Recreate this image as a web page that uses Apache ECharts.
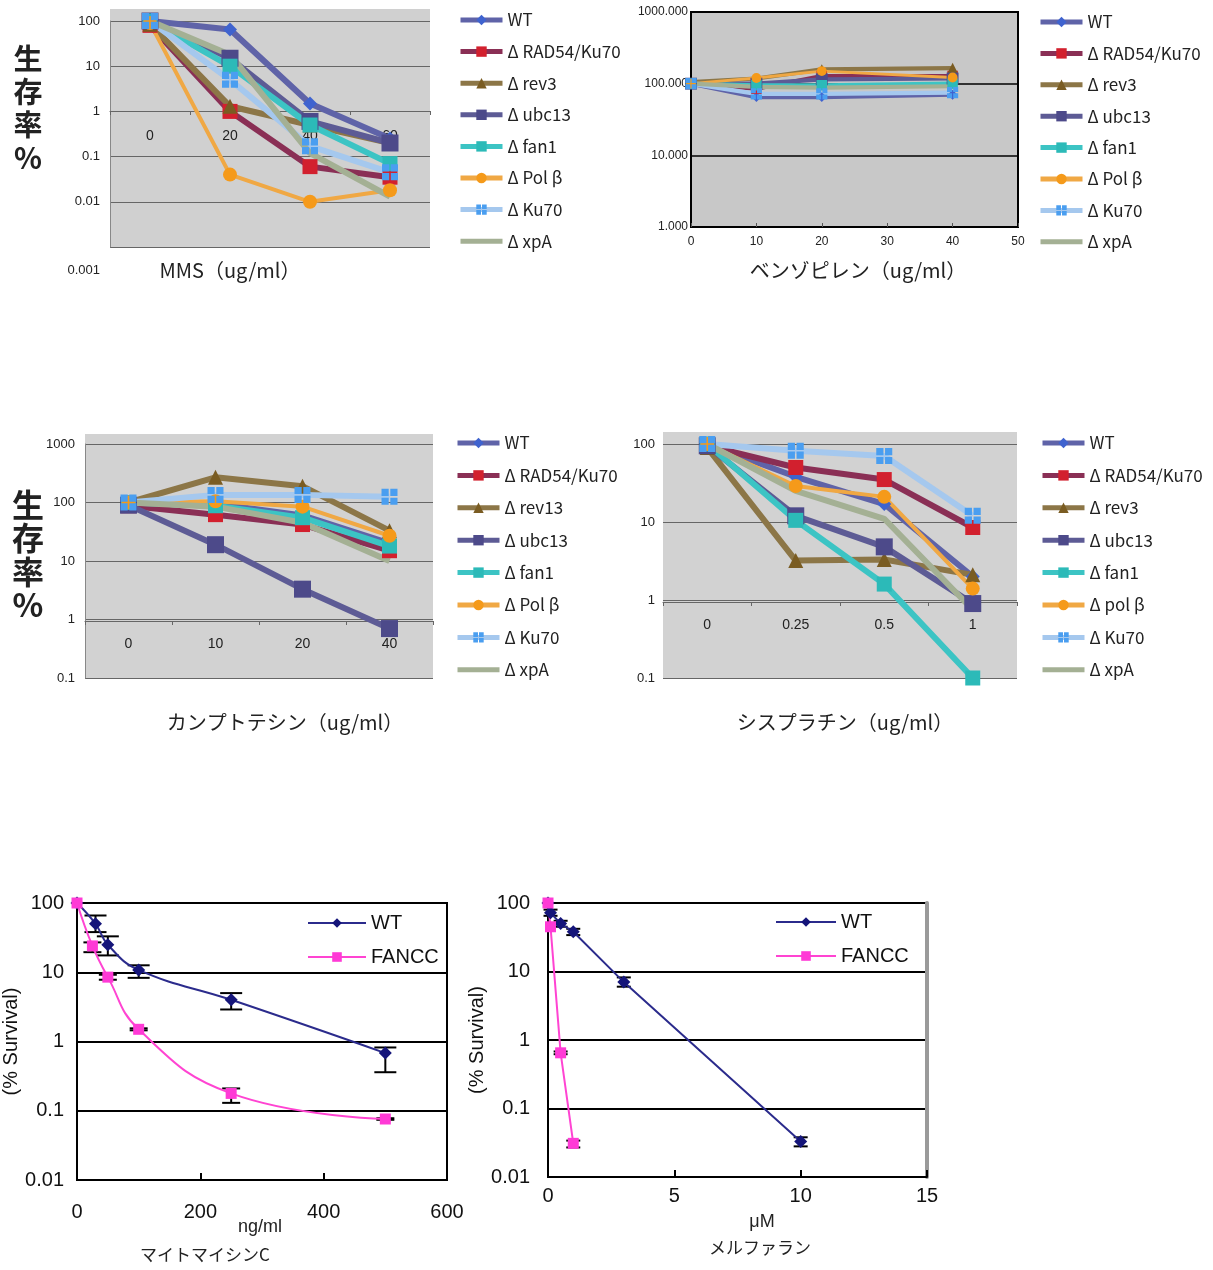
<!DOCTYPE html>
<html>
<head>
<meta charset="utf-8">
<script src="https://cdn.jsdelivr.net/npm/echarts/dist/echarts.min.js"></script>
<style>
  html, body { margin: 0; padding: 0; background: #fff; }
  .panel { position: absolute; left: 0; top: 0; width: 1213px; height: 1270px; }
</style>
</head>
<body>
<div id="c1" class="panel"></div>
<div id="c2" class="panel"></div>
<div id="c3" class="panel"></div>
<div id="c4" class="panel"></div>
<div id="c5" class="panel"></div>
<div id="c6" class="panel"></div>
<script>
// ---- 株の名前 ----
const namesMms = ['WT', 'Δ RAD54/Ku70', 'Δ rev3', 'Δ ubc13', 'Δ fan1', 'Δ Pol β', 'Δ Ku70', 'Δ xpA'];
const namesCpt = ['WT', 'Δ RAD54/Ku70', 'Δ rev13', 'Δ ubc13', 'Δ fan1', 'Δ Pol β', 'Δ Ku70', 'Δ xpA'];
const namesCis = ['WT', 'Δ RAD54/Ku70', 'Δ rev3', 'Δ ubc13', 'Δ fan1', 'Δ pol β', 'Δ Ku70', 'Δ xpA'];

// ---- MMS (ug/ml) ----
const mmsDose = ['0', '20', '40', '60'];
const mmsTicks = ['0.001', '0.01', '0.1', '1', '10', '100'];
const mmsWT = [100, 65, 1.5, 0.25];
const mmsRAD54 = [80, 1.0, 0.06, 0.035];
const mmsRev3 = [85, 1.3, 0.5, 0.2];
const mmsUbc13 = [100, 15, 0.6, 0.2];
const mmsFan1 = [100, 10, 0.5, 0.07];
const mmsPolB = [90, 0.04, 0.01, 0.018];
const mmsKu70 = [100, 5, 0.17, 0.045];
const mmsXpA = [100, 18, 0.12, 0.013];

// ---- ベンゾピレン (ug/ml) ----
const bpDose = [0, 10, 20, 40];
const bpTicks = ['1.000', '10.000', '100.000', '1000.000'];
const bpWT = [100, 65, 65, 70];
const bpRAD54 = [100, 85, 128, 128];
const bpRev3 = [105, 118, 158, 165];
const bpUbc13 = [100, 100, 115, 118];
const bpFan1 = [100, 95, 95, 100];
const bpPolB = [100, 120, 150, 122];
const bpKu70 = [100, 72, 72, 75];
const bpXpA = [100, 90, 88, 92];

// ---- カンプトテシン (ug/ml) ----
const cptDose = ['0', '10', '20', '40'];
const cptTicks = ['0.1', '1', '10', '100', '1000'];
const cptWT = [100, 95, 60, 20];
const cptRAD54 = [88, 62, 42, 15];
const cptRev13 = [100, 270, 190, 33];
const cptUbc13 = [90, 19, 3.3, 0.7];
const cptFan1 = [100, 88, 55, 18];
const cptPolB = [100, 105, 85, 27];
const cptKu70 = [100, 135, 135, 125];
const cptXpA = [100, 85, 45, 10];

// ---- シスプラチン (ug/ml) ----
const cisDose = ['0', '0.25', '0.5', '1'];
const cisTicks = ['0.1', '1', '10', '100'];
const cisWT = [100, 38, 17, 2.0];
const cisRAD54 = [95, 50, 35, 8.5];
const cisRev3 = [90, 3.2, 3.3, 2.1];
const cisUbc13 = [95, 12, 4.8, 0.9];
const cisFan1 = [100, 10.5, 1.6, 0.1];
const cisPolB = [100, 29, 21, 1.4];
const cisKu70 = [100, 82, 70, 12];
const cisXpA = [100, 25, 11, 0.75];

// ---- マイトマイシンC (ng/ml) ----
const survTicks = ['0.01', '0.1', '1', '10', '100'];
const mmcWTDose = [0, 30, 50, 100, 250, 500];
const mmcWT = [100, 50, 25, 10.8, 4.0, 0.68];
const mmcWTLow = [null, 38, 17.5, 8.3, 2.9, 0.36];
const mmcWTHigh = [null, 66, 33, 12.6, 5.0, 0.82];
const mmcFanccDose = [0, 25, 50, 100, 250, 500];
const mmcFancc = [100, 24, 8.5, 1.5, 0.178, 0.076];
const mmcFanccLow = [null, 19.5, 7.8, 1.45, 0.13, 0.074];
const mmcFanccHigh = [null, 27, 9.2, 1.55, 0.21, 0.078];

// ---- メルファラン (μM) ----
const melWTDose = [0, 0.1, 0.5, 1, 3, 10];
const melWT = [100, 72, 50, 38, 7, 0.033];
const melWTLow = [null, 65, 45, 34, 6.0, 0.028];
const melWTHigh = [null, 80, 55, 42, 8.2, 0.038];
const melFanccDose = [0, 0.1, 0.5, 1];
const melFancc = [100, 45, 0.65, 0.031];
const melFanccLow = [null, null, 0.62, 0.027];
const melFanccHigh = [null, null, 0.68, 0.034];

const latin = '"Liberation Sans", "Noto Sans CJK JP", sans-serif';
const jp = '"Noto Sans CJK JP", "Liberation Sans", sans-serif';

// 系列ごとの見た目（Excel風）
const ku70Mark = 'path://M0,0H9V9H0ZM11,0H20V9H11ZM0,11H9V20H0ZM11,11H20V20H11Z';
const strainStyle = [
  { line: '#5f63a8', mark: '#3f63cf', symbol: 'diamond', size: 14, width: 6 },
  { line: '#8a2f55', mark: '#d2202e', symbol: 'rect', size: 15, width: 6 },
  { line: '#8c7647', mark: '#7a5c22', symbol: 'triangle', size: 15, width: 6 },
  { line: '#5d5b95', mark: '#4d4a8a', symbol: 'rect', size: 17, width: 6 },
  { line: '#3cc4c4', mark: '#2cbab8', symbol: 'rect', size: 15, width: 6 },
  { line: '#f0a844', mark: '#f59a1a', symbol: 'circle', size: 14, width: 4 },
  { line: '#a5c8ee', mark: '#4a9ef0', symbol: ku70Mark, size: 16, width: 6 },
  { line: '#a4b094', mark: '#a4b094', symbol: 'none', size: 0, width: 6 }
];

function strainSeries(names, rows, xs, widthScale) {
  return names.map((n, i) => {
    const s = strainStyle[i];
    return {
      name: n,
      type: 'line',
      data: xs ? xs.map((x, j) => [x, rows[i][j]]) : rows[i],
      symbol: s.symbol,
      symbolSize: s.size * (widthScale || 1),
      itemStyle: { color: s.mark },
      lineStyle: { color: s.line, width: s.width * (widthScale || 1) },
      emphasis: { disabled: true },
      animation: false
    };
  });
}

function logLabel(ticks, minExp) {
  return v => ticks[Math.round(Math.log10(v)) - minExp];
}

// 凡例：xpA はマーカー無しの太線
function strainLegend(names, left, top, gap) {
  return {
    data: names.map((n, i) => strainStyle[i].symbol === 'none' ? { name: n, icon: 'path://M0,0H42V5H0Z' } : n),
    orient: 'vertical',
    left: left,
    top: top,
    itemWidth: 42,
    itemHeight: 13,
    itemGap: gap,
    selectedMode: false,
    lineStyle: { width: 5 },
    textStyle: { fontSize: 17, color: '#222', fontFamily: jp }
  };
}

function bgRect(x, y, w, h, color) {
  return { type: 'rect', z: -10, shape: { x: x, y: y, width: w, height: h }, style: { fill: color } };
}

function label(text, x, y, size, font) {
  return {
    type: 'text', x: x, y: y,
    style: { text: text, fontSize: size, fontFamily: font || jp, fill: '#222', textAlign: 'center', textVerticalAlign: 'middle' }
  };
}

function vertLabel(x, y, size, lh) {
  return {
    type: 'text', x: x, y: y,
    style: { text: '生\n存\n率\n%', fontSize: size, lineHeight: lh, fontWeight: 'bold', fontFamily: jp, fill: '#222', textAlign: 'center', textVerticalAlign: 'top' }
  };
}

// カテゴリ軸（y=1 で交差）
function crossCategoryAxis(cats, offset, margin) {
  return {
    type: 'category', data: cats, boundaryGap: true, offset: offset,
    axisLine: { lineStyle: { color: '#666', width: 1 } },
    axisTick: { show: true, length: 4, lineStyle: { color: '#666' } },
    axisLabel: { margin: margin, fontSize: 14, color: '#222', fontFamily: latin }
  };
}

function grayLogAxis(min, max, ticks, minExp, margin, showLine) {
  return {
    type: 'log', logBase: 10, min: min, max: max,
    axisLine: { show: showLine, lineStyle: { color: '#888' } },
    axisTick: { show: false },
    splitLine: { show: true, lineStyle: { color: '#666', width: 1 } },
    axisLabel: { margin: margin, fontSize: 13, color: '#222', fontFamily: latin, formatter: logLabel(ticks, minExp) }
  };
}

// ---- 図1 MMS ----
const mmsAxisY = grayLogAxis(0.001, 100, mmsTicks, -3, 10, true);
mmsAxisY.axisLabel.formatter = v => {
  const t = mmsTicks[Math.round(Math.log10(v)) + 3];
  return t === '0.001' ? '{low|' + t + '}' : t;
};
mmsAxisY.axisLabel.rich = { low: { padding: [46, 0, 0, 0], fontSize: 13, color: '#222', fontFamily: latin } };

echarts.init(document.getElementById('c1')).setOption({
  backgroundColor: 'transparent',
  animation: false,
  grid: { left: 110, top: 21, width: 320, height: 226, show: false },
  xAxis: crossCategoryAxis(mmsDose, -136, 18),
  yAxis: mmsAxisY,
  legend: strainLegend(namesMms, 453, 6.5, 14.6),
  graphic: [
    bgRect(110, 9, 320, 238, '#d0d0d0'),
    vertLabel(28, 42, 29, 33),
    label('MMS（ug/ml）', 230, 270, 20)
  ],
  series: strainSeries(namesMms, [mmsWT, mmsRAD54, mmsRev3, mmsUbc13, mmsFan1, mmsPolB, mmsKu70, mmsXpA])
});

// ---- 図2 ベンゾピレン ----
echarts.init(document.getElementById('c2')).setOption({
  backgroundColor: 'transparent',
  animation: false,
  grid: { left: 691, top: 12, width: 327, height: 215, show: true, backgroundColor: '#c8c8c8', borderColor: '#000', borderWidth: 2 },
  xAxis: {
    type: 'value', min: 0, max: 50, interval: 10,
    axisLine: { lineStyle: { color: '#000', width: 2 } },
    axisTick: { show: true, inside: true, length: 4, lineStyle: { color: '#555' } },
    splitLine: { show: false },
    axisLabel: { margin: 9, fontSize: 12, color: '#222', fontFamily: latin }
  },
  yAxis: {
    type: 'log', logBase: 10, min: 1, max: 1000,
    axisLine: { show: true, lineStyle: { color: '#000', width: 2 } },
    axisTick: { show: false },
    splitLine: { show: true, lineStyle: { color: '#000', width: 1.5 } },
    axisLabel: { margin: 3, fontSize: 12, color: '#222', fontFamily: latin, formatter: logLabel(bpTicks, 0) }
  },
  legend: strainLegend(namesMms, 1033, 8.5, 14.4),
  graphic: [
    label('ベンゾピレン（ug/ml）', 858, 270, 20)
  ],
  series: strainSeries(namesMms, [bpWT, bpRAD54, bpRev3, bpUbc13, bpFan1, bpPolB, bpKu70, bpXpA], bpDose, 0.7)
});

// ---- 図3 カンプトテシン ----
echarts.init(document.getElementById('c3')).setOption({
  backgroundColor: 'transparent',
  animation: false,
  grid: { left: 85, top: 444, width: 348, height: 234, show: false },
  xAxis: crossCategoryAxis(cptDose, -57, 16),
  yAxis: grayLogAxis(0.1, 1000, cptTicks, -1, 10, true),
  legend: strainLegend(namesCpt, 450, 429.5, 15.4),
  graphic: [
    bgRect(85, 434, 348, 244, '#d2d2d2'),
    vertLabel(28, 488, 32, 33.5),
    label('カンプトテシン（ug/ml）', 285, 722, 20)
  ],
  series: strainSeries(namesCpt, [cptWT, cptRAD54, cptRev13, cptUbc13, cptFan1, cptPolB, cptKu70, cptXpA])
});

// ---- 図4 シスプラチン ----
echarts.init(document.getElementById('c4')).setOption({
  backgroundColor: 'transparent',
  animation: false,
  grid: { left: 663, top: 444, width: 354, height: 234, show: false },
  xAxis: crossCategoryAxis(cisDose, -76, 16),
  yAxis: grayLogAxis(0.1, 100, cisTicks, -1, 8, false),
  legend: strainLegend(namesCis, 1035, 429.5, 15.4),
  graphic: [
    bgRect(663, 432, 354, 246, '#d2d2d2'),
    label('シスプラチン（ug/ml）', 845, 722, 20)
  ],
  series: strainSeries(namesCis, [cisWT, cisRAD54, cisRev3, cisUbc13, cisFan1, cisPolB, cisKu70, cisXpA])
});

// ---- 誤差棒 ----
function errorBars(xs, lo, hi, cap) {
  return {
    type: 'custom',
    silent: true,
    z: 1,
    animation: false,
    data: xs.map((x, i) => [x, lo[i] == null ? NaN : lo[i], hi[i] == null ? NaN : hi[i]]),
    encode: { x: 0, y: [1, 2] },
    renderItem(params, api) {
      const x = api.value(0), l = api.value(1), h = api.value(2);
      if (isNaN(l) || isNaN(h)) return null;
      const a = api.coord([x, l]);
      const b = api.coord([x, h]);
      const st = { stroke: '#000', lineWidth: 2 };
      return {
        type: 'group',
        children: [
          { type: 'line', shape: { x1: a[0], y1: a[1], x2: b[0], y2: b[1] }, style: st },
          { type: 'line', shape: { x1: a[0] - cap, y1: a[1], x2: a[0] + cap, y2: a[1] }, style: st },
          { type: 'line', shape: { x1: b[0] - cap, y1: b[1], x2: b[0] + cap, y2: b[1] }, style: st }
        ]
      };
    }
  };
}

function survivalOption(g, xMax, xInterval, xMargin, yMargin, lg, wtData, fanccData, smooth, errs, texts, rightGray) {
  const yAxes = [{
    type: 'log', logBase: 10, min: 0.01, max: 100,
    name: '(% Survival)', nameLocation: 'middle', nameRotate: 90, nameGap: g.nameGap,
    nameTextStyle: { fontSize: 20, color: '#111', fontFamily: latin },
    axisLine: { show: true, lineStyle: { color: '#000', width: 2 } },
    axisTick: { show: false },
    splitLine: { show: true, lineStyle: { color: '#000', width: 2 } },
    axisLabel: { margin: yMargin, fontSize: 20, color: '#111', fontFamily: latin, formatter: logLabel(survTicks, -2) }
  }];
  if (rightGray) {
    yAxes.push({
      type: 'log', logBase: 10, min: 0.01, max: 100, position: 'right',
      axisLine: { show: true, lineStyle: { color: '#9a9a9a', width: 4 } },
      axisTick: { show: false }, axisLabel: { show: false }, splitLine: { show: false }
    });
  }
  return {
    backgroundColor: 'transparent',
    animation: false,
    grid: { left: g.left, top: g.top, width: g.width, height: g.height, show: true, borderColor: '#000', borderWidth: 2, backgroundColor: '#fff' },
    xAxis: {
      type: 'value', min: 0, max: xMax, interval: xInterval,
      axisLine: { lineStyle: { color: '#000', width: 2 } },
      axisTick: { show: true, inside: true, length: 7, lineStyle: { color: '#000', width: 2 } },
      splitLine: { show: false },
      axisLabel: { margin: xMargin, fontSize: 20, color: '#111', fontFamily: latin }
    },
    yAxis: yAxes,
    legend: {
      data: ['WT', 'FANCC'],
      orient: 'vertical',
      left: lg.left, top: lg.top,
      itemWidth: lg.w, itemHeight: 12, itemGap: 14,
      selectedMode: false,
      textStyle: { fontSize: 20, color: '#111', fontFamily: latin }
    },
    graphic: texts,
    series: [
      errs[0], errs[1],
      {
        name: 'WT', type: 'line', smooth: smooth, data: wtData,
        symbol: 'diamond', symbolSize: 13,
        itemStyle: { color: '#15157a' }, lineStyle: { color: '#2b2b8c', width: 2 },
        emphasis: { disabled: true }, z: 3
      },
      {
        name: 'FANCC', type: 'line', smooth: smooth, data: fanccData,
        symbol: 'rect', symbolSize: 11,
        itemStyle: { color: '#ff3ad6' }, lineStyle: { color: '#ff44d2', width: 2 },
        emphasis: { disabled: true }, z: 3
      }
    ]
  };
}

const zip = (xs, ys) => xs.map((x, i) => [x, ys[i]]);

// ---- 図5 マイトマイシンC ----
echarts.init(document.getElementById('c5')).setOption(survivalOption(
  { left: 73, top: 903, width: 374, height: 277, nameGap: 56 },
  600, 200, 22, 13, { left: 302, top: 908, w: 58 },
  zip(mmcWTDose, mmcWT), zip(mmcFanccDose, mmcFancc), 0.45,
  [errorBars(mmcWTDose, mmcWTLow, mmcWTHigh, 11), errorBars(mmcFanccDose, mmcFanccLow, mmcFanccHigh, 9)],
  [label('ng/ml', 260, 1227, 18, latin), label('マイトマイシンC', 205, 1255, 17)],
  false
));

// ---- 図6 メルファラン ----
echarts.init(document.getElementById('c6')).setOption(survivalOption(
  { left: 548, top: 903, width: 379, height: 274, nameGap: 58 },
  15, 5, 9, 18, { left: 770, top: 907, w: 60 },
  zip(melWTDose, melWT), zip(melFanccDose, melFancc), false,
  [errorBars(melWTDose, melWTLow, melWTHigh, 7), errorBars(melFanccDose, melFanccLow, melFanccHigh, 7)],
  [label('μM', 762, 1222, 18, latin), label('メルファラン', 760, 1248, 17)],
  true
));
</script>
</body>
</html>
